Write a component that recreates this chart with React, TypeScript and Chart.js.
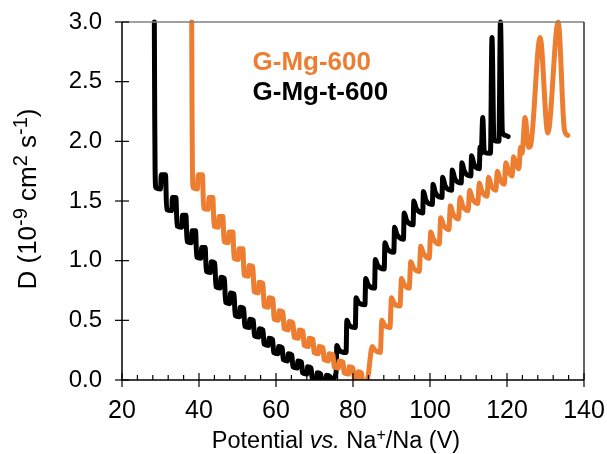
import React, { useEffect, useRef } from 'react';
import { Chart, registerables } from 'chart.js';

Chart.register(...registerables);

const X_TICKS = [20, 40, 60, 80, 100, 120, 140];
const Y_TICKS = [0, 0.5, 1, 1.5, 2, 2.5, 3];
const SERIES_NAMES = ['G-Mg-600', 'G-Mg-t-600'];

// G-Mg-600 (orange)
const ORANGE_X = [
  38.1, 38.2, 38.3, 38.5, 39.6, 39.8, 40.9,
  41.2, 42.4, 42.6, 43.6,
  43.9, 45.0, 45.2, 46.2,
  46.5, 47.6, 47.8, 48.8,
  49.1, 50.2, 50.4, 51.4,
  51.7, 52.8, 53.0, 54.0,
  54.3, 55.4, 55.6, 56.6,
  56.9, 58.0, 58.2, 59.2,
  59.5, 60.6, 60.8, 61.8,
  62.1, 63.2, 63.4, 64.4,
  64.7, 65.8, 66.0, 67.0,
  67.3, 68.4, 68.6, 69.6,
  69.9, 71.0, 71.2, 72.2,
  72.5, 73.6, 73.8, 74.8,
  75.1, 76.2, 76.4, 77.4,
  77.7, 78.8, 79.0, 80.0,
  80.3, 81.2, 81.4, 82.2,
  82.5, 83.7,
  85.0, 85.7,
  87.1, 87.5, 88.2,
  89.6, 90.0, 90.7,
  92.2, 92.6, 93.3,
  94.6, 95.0, 95.7,
  97.2, 97.6, 98.3,
  99.8, 100.2, 100.9,
  102.4, 102.8, 103.5,
  104.9, 105.3, 106.0,
  107.4, 107.8, 108.5,
  109.9, 110.3, 111.0,
  112.4, 112.8, 113.5,
  114.8, 115.2, 115.9,
  117.1, 117.5, 118.2,
  119.3, 119.7, 120.4,
  121.3, 121.7, 122.4,
  123.1, 123.5, 123.9,
  124.7, 125.6, 126.1, 128.6, 130.6, 133.3, 134.9, 135.8,
];
const ORANGE_Y = [
  3.0, 2.2, 1.75, 1.61, 1.6, 1.72, 1.72,
  1.44, 1.43, 1.53, 1.53,
  1.29, 1.28, 1.37, 1.37,
  1.16, 1.15, 1.24, 1.24,
  1.02, 1.01, 1.1, 1.1,
  0.88, 0.87, 0.96, 0.95,
  0.74, 0.73, 0.82, 0.81,
  0.62, 0.61, 0.69, 0.68,
  0.51, 0.5, 0.58, 0.57,
  0.43, 0.42, 0.49, 0.48,
  0.36, 0.35, 0.42, 0.41,
  0.29, 0.28, 0.35, 0.34,
  0.23, 0.22, 0.28, 0.27,
  0.17, 0.16, 0.22, 0.21,
  0.11, 0.1, 0.16, 0.15,
  0.06, 0.05, 0.11, 0.1,
  0.02, 0.01, 0.07, 0.06,
  -0.02, 0.0,
  0.28, 0.25,
  0.23, 0.5, 0.46,
  0.44, 0.69, 0.64,
  0.62, 0.85, 0.8,
  0.77, 0.99, 0.94,
  0.91, 1.12, 1.06,
  1.02, 1.24, 1.18,
  1.14, 1.36, 1.3,
  1.26, 1.46, 1.39,
  1.35, 1.53, 1.46,
  1.42, 1.59, 1.52,
  1.48, 1.65, 1.58,
  1.54, 1.7, 1.63,
  1.59, 1.75, 1.68,
  1.64, 1.82, 1.75,
  1.71, 1.87, 1.8,
  1.77, 1.95, 1.9,
  2.2, 1.95, 1.96, 2.87, 2.07, 3.0, 2.1, 2.05,
];

// G-Mg-t-600 (black)
const BLACK_X = [
  28.4, 28.5, 28.6, 28.8, 30.0, 30.2, 31.3,
  31.6, 32.9, 33.1, 34.0,
  34.3, 35.5, 35.7, 36.6,
  36.9, 38.0, 38.2, 39.1,
  39.4, 40.5, 40.7, 41.6,
  41.9, 43.0, 43.2, 44.1,
  44.4, 45.5, 45.7, 46.6,
  46.9, 48.0, 48.2, 49.1,
  49.4, 50.5, 50.7, 51.6,
  51.9, 53.0, 53.2, 54.1,
  54.4, 55.5, 55.7, 56.6,
  56.9, 58.0, 58.2, 59.1,
  59.4, 60.5, 60.7, 61.6,
  61.9, 63.0, 63.2, 64.1,
  64.4, 65.5, 65.7, 66.6,
  66.9, 68.0, 68.2, 69.1,
  69.4, 70.5, 70.7, 71.6,
  71.9, 72.9, 73.1, 74.0,
  74.3, 75.6,
  75.8, 76.4, 78.2,
  78.4, 79.0, 80.6,
  80.8, 81.4, 83.1,
  83.3, 83.9, 85.6,
  85.8, 86.4, 88.1,
  88.3, 88.9, 90.6,
  90.8, 91.4, 93.1,
  93.3, 93.9, 95.6,
  95.8, 96.4, 98.1,
  98.3, 98.9, 100.6,
  100.8, 101.4, 103.1,
  103.3, 103.9, 105.6,
  105.8, 106.4, 108.1,
  108.3, 108.9, 110.6,
  110.8, 111.4, 112.8,
  113.0, 113.3, 113.7, 114.1, 115.7,
  116.1, 116.6, 117.9,
  118.3, 118.8, 119.6, 120.3,
];
const BLACK_Y = [
  3.0, 2.2, 1.75, 1.61, 1.6, 1.72, 1.72,
  1.43, 1.42, 1.53, 1.53,
  1.29, 1.28, 1.38, 1.38,
  1.16, 1.15, 1.25, 1.25,
  1.03, 1.02, 1.11, 1.11,
  0.91, 0.9, 0.99, 0.98,
  0.78, 0.77, 0.86, 0.85,
  0.65, 0.64, 0.73, 0.72,
  0.54, 0.53, 0.61, 0.6,
  0.45, 0.44, 0.51, 0.5,
  0.37, 0.36, 0.43, 0.42,
  0.3, 0.29, 0.35, 0.34,
  0.23, 0.22, 0.28, 0.27,
  0.17, 0.16, 0.22, 0.21,
  0.11, 0.1, 0.16, 0.15,
  0.06, 0.05, 0.11, 0.1,
  0.01, 0.0, 0.06, 0.05,
  -0.03, -0.04, 0.04, 0.03,
  0.0, 0.06,
  0.29, 0.25, 0.23,
  0.5, 0.46, 0.44,
  0.69, 0.65, 0.63,
  0.85, 0.8, 0.77,
  1.01, 0.96, 0.93,
  1.15, 1.1, 1.07,
  1.28, 1.22, 1.18,
  1.4, 1.34, 1.3,
  1.5, 1.44, 1.4,
  1.58, 1.51, 1.47,
  1.64, 1.57, 1.53,
  1.7, 1.63, 1.59,
  1.76, 1.69, 1.65,
  1.82, 1.75, 1.71,
  1.88, 1.81, 1.77,
  1.95, 1.9, 2.2, 1.91, 1.9,
  2.87, 2.01, 2.0,
  3.0, 2.08, 2.05, 2.04,
];

const FONT = "'Liberation Sans', Arial, Helvetica, sans-serif";
const ORANGE = '#ED7D31';

type Seg = { t: string; italic?: boolean; sup?: boolean };

function drawRich(ctx: CanvasRenderingContext2D, segs: Seg[], cx: number, by: number, size: number, supScale: number) {
  const fontFor = (s: Seg) => `${s.italic ? 'italic ' : ''}${s.sup ? Math.round(size * supScale) : size}px ${FONT}`;
  const widths = segs.map((s) => {
    ctx.font = fontFor(s);
    return ctx.measureText(s.t).width;
  });
  const total = widths.reduce((a, b) => a + b, 0);
  let x = cx - total / 2;
  ctx.textAlign = 'left';
  ctx.textBaseline = 'alphabetic';
  segs.forEach((s, i) => {
    ctx.font = fontFor(s);
    ctx.fillText(s.t, x, s.sup ? by - size * 0.36 : by);
    x += widths[i];
  });
}

const decorPlugin = {
  id: 'decor',
  afterDatasetsDraw(chart: any) {
    const { ctx, chartArea: a, scales } = chart;
    const xs = scales.x;
    const ys = scales.y;
    ctx.save();
    ctx.lineCap = 'butt';
    ctx.lineWidth = 1.5;
    ctx.strokeStyle = '#808080';
    ctx.beginPath();
    ctx.moveTo(a.left, a.top);
    ctx.lineTo(a.right, a.top);
    ctx.stroke();
    ctx.strokeStyle = '#333333';
    ctx.beginPath();
    ctx.moveTo(a.right, a.top);
    ctx.lineTo(a.right, a.bottom);
    ctx.stroke();
    ctx.strokeStyle = '#000000';
    ctx.beginPath();
    ctx.moveTo(a.left, a.top);
    ctx.lineTo(a.left, a.bottom);
    ctx.lineTo(a.right, a.bottom);
    ctx.stroke();
    ctx.lineWidth = 1.2;
    Y_TICKS.forEach((v) => {
      const p = ys.getPixelForValue(v);
      ctx.beginPath();
      ctx.moveTo(a.left - 7, p);
      ctx.lineTo(a.left + 7, p);
      ctx.stroke();
    });
    X_TICKS.forEach((v) => {
      const p = xs.getPixelForValue(v);
      ctx.beginPath();
      ctx.moveTo(p, a.bottom - 7);
      ctx.lineTo(p, a.bottom + 7);
      ctx.stroke();
    });
    for (let v = X_TICKS[0]; v <= X_TICKS[X_TICKS.length - 1]; v += 4) {
      if (X_TICKS.includes(v)) continue;
      const p = xs.getPixelForValue(v);
      ctx.beginPath();
      ctx.moveTo(p, a.bottom - 5);
      ctx.lineTo(p, a.bottom);
      ctx.stroke();
    }
    // legend text
    ctx.textAlign = 'left';
    ctx.textBaseline = 'alphabetic';
    ctx.font = `bold 26px ${FONT}`;
    const lx = xs.getPixelForValue(53.9);
    ctx.fillStyle = ORANGE;
    ctx.fillText(SERIES_NAMES[0], lx, ys.getPixelForValue(2.6));
    ctx.fillStyle = '#000000';
    ctx.fillText(SERIES_NAMES[1], lx, ys.getPixelForValue(2.35));
    // x title
    drawRich(
      ctx,
      [
        { t: 'Potential ' },
        { t: 'vs.', italic: true },
        { t: ' Na' },
        { t: '+', sup: true },
        { t: '/Na (V)' },
      ],
      336,
      448,
      23.5,
      0.66
    );
    // y title
    ctx.save();
    ctx.translate(36, 199);
    ctx.rotate(-Math.PI / 2);
    drawRich(
      ctx,
      [
        { t: 'D (10' },
        { t: '-9', sup: true },
        { t: ' cm' },
        { t: '2', sup: true },
        { t: ' s' },
        { t: '-1', sup: true },
        { t: ')' },
      ],
      0,
      0,
      26,
      0.78
    );
    ctx.restore();
    ctx.restore();
  },
};

const zeroPad = (s: any) => {
  s.paddingLeft = 0;
  s.paddingRight = 0;
  s.paddingTop = 0;
  s.paddingBottom = 0;
};

export default function App() {
  const ref = useRef<HTMLCanvasElement>(null);
  useEffect(() => {
    const toPts = (xs: number[], ys: number[]) => xs.map((x, i) => ({ x, y: ys[i] }));
    const common = {
      borderWidth: 5,
      pointRadius: 0,
      cubicInterpolationMode: 'monotone',
      borderJoinStyle: 'round',
      borderCapStyle: 'round',
      clip: { left: 0, top: 3, right: 0, bottom: 0 },
    };
    const chart = new Chart(ref.current as HTMLCanvasElement, {
      type: 'line',
      data: {
        datasets: [
          { label: SERIES_NAMES[0], data: toPts(ORANGE_X, ORANGE_Y), borderColor: ORANGE, ...common },
          { label: SERIES_NAMES[1], data: toPts(BLACK_X, BLACK_Y), borderColor: '#000000', ...common },
        ],
      } as any,
      options: {
        animation: false,
        responsive: true,
        maintainAspectRatio: false,
        layout: { padding: { top: 22, right: 23, left: 0, bottom: 0 } },
        plugins: { legend: { display: false }, tooltip: { enabled: false } },
        scales: {
          x: {
            type: 'linear',
            min: 20,
            max: 140,
            afterBuildTicks: (s: any) => {
              s.ticks = X_TICKS.map((v) => ({ value: v }));
            },
            afterFit: (s: any) => {
              s.height = 74;
              zeroPad(s);
            },
            grid: { display: false, drawTicks: false },
            border: { display: false },
            ticks: {
              color: '#000',
              font: { family: FONT, size: 25 },
              padding: 16,
              maxRotation: 0,
              autoSkip: false,
            },
          },
          y: {
            type: 'linear',
            min: 0,
            max: 3,
            afterBuildTicks: (s: any) => {
              s.ticks = Y_TICKS.map((v) => ({ value: v }));
            },
            afterFit: (s: any) => {
              s.width = 122;
              zeroPad(s);
            },
            grid: { display: false, drawTicks: false },
            border: { display: false },
            ticks: {
              color: '#000',
              font: { family: FONT, size: 24 },
              padding: 20,
              callback: (v: any) => Number(v).toFixed(1),
            },
          },
        },
      } as any,
      plugins: [decorPlugin],
    });
    return () => chart.destroy();
  }, []);
  return (
    <div style={{ position: 'absolute', left: 0, top: 0, width: 607, height: 454, background: '#fff' }}>
      <canvas ref={ref} />
    </div>
  );
}
